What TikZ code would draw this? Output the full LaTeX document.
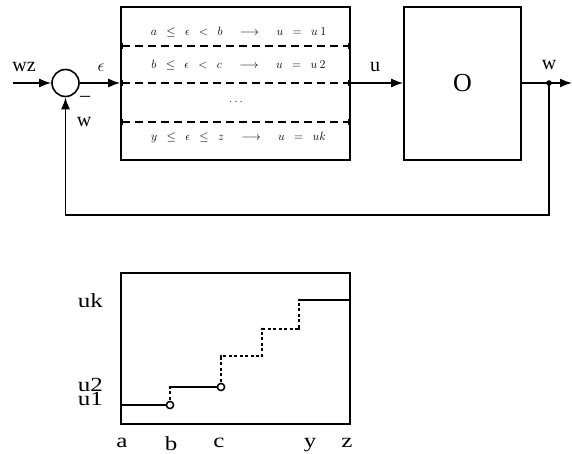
\documentclass[tikz,border=0pt]{standalone}
\usepackage{fontspec}
\setmainfont{Liberation Serif}
\usetikzlibrary{arrows.meta}
\newcommand\rowgap{\hspace{6pt}}
\newcommand\arrowgap{\hspace{14pt}}
\tikzset{blockbox/.style={draw,line width=1.6pt,inner sep=0pt},
  sumcirc/.style={draw,circle,line width=1.6pt,minimum size=27pt,inner sep=0pt},
  sig/.style={line width=1.6pt,-{Latex[length=12pt,width=9pt]}},
  rowline/.style={line width=1.6pt,dash pattern=on 8pt off 5pt,{Bar[width=6pt]}-{Bar[width=6pt]}},
  lbl/.style={font=\fontsize{20}{22}\selectfont,inner sep=0pt},
  axlbl/.style={font=\fontsize{20}{22}\selectfont,inner sep=0pt,xscale=1.25},
  rowtxt/.style={font=\fontsize{12.5}{14}\selectfont,inner sep=0pt},
  stepline/.style={line width=1.6pt},
  stepdot/.style={line width=1.6pt,dash pattern=on 3pt off 2.5pt}}

\begin{document}
\begin{tikzpicture}[x=1pt,y=-1pt]
\useasboundingbox (0,0) rectangle (572,454);

% loop
\node[sumcirc] (sum) at (65.5,83) {};
\node[blockbox,minimum width=229pt,minimum height=153pt] (ctrl) at (235.5,83.5) {};
\node[blockbox,minimum width=117pt,minimum height=153pt] (plant) at (462.5,83.5) {};
\node[lbl,font=\fontsize{26}{28}\selectfont] (plantname) at (plant.center) {O};
\coordinate (in) at (13,83);
\coordinate (br) at (549,83);
\coordinate (out) at (572,83);
\coordinate (fb) at (549,215);

\draw[sig] (in) -- (sum.west);
\draw[sig] (sum.east) -- (sum.east -| ctrl.west);
\draw[sig] (ctrl.east |- br) -- (plant.west |- br);
\draw[sig] (plant.east |- br) -- (out);
\draw[sig] (br) -- (fb) -| (sum.south);
\fill (br) circle (2.8pt);

\node[lbl,anchor=base] (wzlbl) at (24,72) {wz};
\node[lbl,anchor=base,font=\fontsize{18}{20}\selectfont] (epslbl) at (101,72) {$\epsilon$};
\node[lbl] (minus) at (85,99) {\textendash};
\node[lbl,anchor=base] (wlbl) at (84,127) {w};
\node[lbl,anchor=base] (ulbl) at (375,72) {u};
\node[lbl,anchor=base] (outlbl) at (549,70) {w};

% rules of the controller
\draw[rowline] (121,46) -- (350,46);
\draw[rowline] (121,83) -- (350,83);
\draw[rowline] (121,122) -- (350,122);
\node[rowtxt] (row1) at (238.5,32) {$a\rowgap\leq\rowgap\epsilon\rowgap<\rowgap b\arrowgap\longrightarrow\arrowgap u\rowgap=\rowgap u\hspace{2.5pt}1$};
\node[rowtxt] (row2) at (238.5,65) {$b\rowgap\leq\rowgap\epsilon\rowgap<\rowgap c\arrowgap\longrightarrow\arrowgap u\rowgap=\rowgap u\hspace{2.5pt}2$};
\node[rowtxt] (row3) at (236,102) {$\dots$};
\node[rowtxt] (row4) at (238.5,138) {$y\rowgap\leq\rowgap\epsilon\rowgap\leq\rowgap z\arrowgap\longrightarrow\arrowgap u\rowgap=\rowgap uk$};

% step characteristic
\draw[line width=1.6pt] (121,273) rectangle (350,424);
\draw[stepline] (121,405) -- (170,405);
\draw[stepdot] (170,405) -- (170,387);
\draw[stepline] (170,387) -- (221,387);
\draw[stepdot] (221,387) -- (221,356) -- (262,356) -- (262,329) -- (299,329) -- (299,300);
\draw[stepline] (299,300) -- (350,300);
\foreach \p in {(170,387),(221,356),(262,356),(262,329),(299,329),(299,300)}
  \fill \p circle (1.4pt);
\foreach \p in {(170,405),(221,387)}
  \draw[line width=1.5pt,fill=white] \p circle (3.6pt);

\node[axlbl,anchor=base east] (uklbl) at (103,307) {uk};
\node[axlbl,anchor=base east] (u2lbl) at (103,391) {u2};
\node[axlbl,anchor=base east] (u1lbl) at (103,405) {u1};
\node[axlbl,anchor=base] (albl) at (122,447) {a};
\node[axlbl,anchor=base] (blbl) at (171,450) {b};
\node[axlbl,anchor=base] (clbl) at (219,447) {c};
\node[axlbl,anchor=base] (ylbl) at (310,447) {y};
\node[axlbl,anchor=base] (zlbl) at (347,447) {z};
\end{tikzpicture}
\end{document}
